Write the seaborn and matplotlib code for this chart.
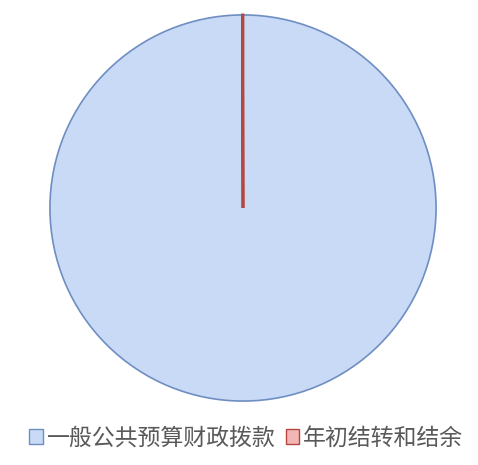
import matplotlib
matplotlib.use("Agg")
import matplotlib.pyplot as plt
import seaborn as sns

# data
labels = ["一般公共预算财政拨款", "年初结转和结余"]
values = [99.95, 0.05]
fill_colors = ["#C9DAF6", "#F2B6B5"]
edge_colors = ["#6E8EC2", "#B5473F"]

sns.set_theme(style="white")
plt.rcParams['font.family'] = ['Noto Sans CJK SC', 'DejaVu Sans']

fig = plt.figure(figsize=(4.78, 4.65), dpi=100)
ax = fig.add_axes([48 / 478, (465 - 403) / 465, 390 / 478, 390 / 465])

wedges, _ = ax.pie(values, colors=fill_colors, startangle=90, counterclock=False,
                   radius=1.0, wedgeprops=dict(linewidth=1.2))
for w, ec in zip(wedges, edge_colors):
    w.set_edgecolor(ec)
wedges[1].set_linewidth(2.0)
ax.set_xlim(-1.01, 1.01)
ax.set_ylim(-1.01, 1.01)
ax.set_aspect("equal")
ax.axis("off")

handles = [plt.Rectangle((0, 0), 1, 1, facecolor=c, edgecolor=e, linewidth=1)
           for c, e in zip(fill_colors, edge_colors)]
fig.legend(handles, labels, loc="center", bbox_to_anchor=(0.515, 0.058), ncol=2,
           frameon=False, fontsize=16.5, handlelength=0.6, handleheight=0.6,
           handletextpad=0.15, columnspacing=0.45, labelcolor="#595959")

fig.savefig("out.png", dpi=100)
